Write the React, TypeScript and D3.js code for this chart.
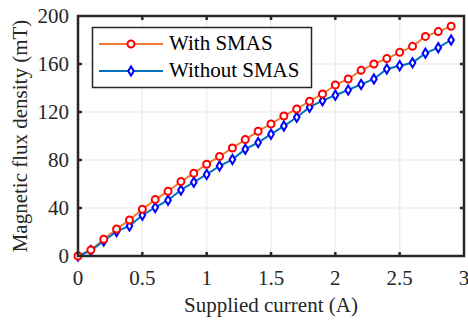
import * as d3 from "d3"

const WIDTH = 468
const HEIGHT = 322
const M = { left: 78, right: 4, top: 16, bottom: 66 }

const current = [
  0, 0.1, 0.2, 0.3, 0.4, 0.5, 0.6, 0.7, 0.8, 0.9, 1.0, 1.1, 1.2, 1.3, 1.4,
  1.5, 1.6, 1.7, 1.8, 1.9, 2.0, 2.1, 2.2, 2.3, 2.4, 2.5, 2.6, 2.7, 2.8, 2.9,
]
const withSmas = [
  0, 5, 14, 22.5, 30, 39, 47, 54, 62, 69, 76.5, 83, 90, 97, 104,
  110, 116.7, 122.5, 129, 135, 142.5, 147.5, 154.7, 160, 164.5, 169.7, 174.7, 183, 187, 191.5,
]
const withoutSmas = [
  0, 4.5, 12.5, 20.5, 25, 34, 40.5, 46.5, 55, 61.5, 68, 75, 80.5, 89, 94.5,
  101.5, 108.3, 115.6, 124, 129.4, 134, 138.3, 143, 147.5, 155.8, 158.6, 161, 169, 173.6, 180,
]
const xTicks = [0, 0.5, 1, 1.5, 2, 2.5, 3]
const yTicks = [0, 40, 80, 120, 160, 200]

const AXIS = "#262626"
const ORANGE = "#F07A35"
const LBLUE = "#0072BD"
const textStyle = { fontFamily: "Liberation Serif", fontSize: "21px" }

const diamond = (cx: number, cy: number) =>
  `M${cx},${cy - 4.6}L${cx + 2.8},${cy}L${cx},${cy + 4.6}L${cx - 2.8},${cy}Z`

export default function App() {
  const x = d3.scaleLinear().domain([0, 3]).range([M.left, WIDTH - M.right])
  const y = d3.scaleLinear().domain([0, 200]).range([HEIGHT - M.bottom, M.top])
  const [x0, x1] = x.range()
  const [y0, y1] = y.range()

  const pts = (vals: number[]) => current.map((c, i) => [x(c), y(vals[i])] as [number, number])
  const line = d3.line()
  const redPts = pts(withSmas)
  const bluePts = pts(withoutSmas)

  const inner = xTicks.slice(1, -1)
  const innerY = yTicks.slice(1, -1)

  return (
    <svg
      width={WIDTH}
      height={HEIGHT}
      viewBox={`0 0 ${WIDTH} ${HEIGHT}`}
      style={{ position: "absolute", left: 0, top: 0, background: "white" }}
    >
      {/* grid */}
      <g stroke="#efefef" strokeWidth={1.5}>
        {inner.map((t) => (
          <line key={`gx${t}`} x1={x(t)} x2={x(t)} y1={y0} y2={y1} />
        ))}
        {innerY.map((t) => (
          <line key={`gy${t}`} x1={x0} x2={x1} y1={y(t)} y2={y(t)} />
        ))}
      </g>

      {/* series */}
      <path d={line(redPts) ?? ""} fill="none" stroke={ORANGE} strokeWidth={2} />
      <path d={line(bluePts) ?? ""} fill="none" stroke={LBLUE} strokeWidth={2} />
      {bluePts.map((d, i) => (
        <path key={`b${i}`} d={diamond(d[0], d[1])} fill="white" stroke="#0000FF" strokeWidth={2} />
      ))}
      {redPts.map((d, i) => (
        <circle key={`r${i}`} cx={d[0]} cy={d[1]} r={3.5} fill="white" stroke="#FF0000" strokeWidth={2} />
      ))}

      {/* axes box + ticks */}
      <g stroke={AXIS} strokeWidth={2.5} fill="none">
        <rect x={x0} y={y1} width={x1 - x0} height={y0 - y1} />
        {inner.map((t) => (
          <g key={`tx${t}`}>
            <line x1={x(t)} x2={x(t)} y1={y0} y2={y0 - 4} />
            <line x1={x(t)} x2={x(t)} y1={y1} y2={y1 + 4} />
          </g>
        ))}
        {innerY.map((t) => (
          <g key={`ty${t}`}>
            <line x1={x0} x2={x0 + 4} y1={y(t)} y2={y(t)} />
            <line x1={x1} x2={x1 - 4} y1={y(t)} y2={y(t)} />
          </g>
        ))}
      </g>

      {/* tick labels */}
      {xTicks.map((t) => (
        <text key={`lx${t}`} x={x(t)} y={y0 + 29} textAnchor="middle" fill={AXIS} style={textStyle}>
          {String(t)}
        </text>
      ))}
      {yTicks.map((t) => (
        <text key={`ly${t}`} x={x0 - 9} y={y(t) + 7} textAnchor="end" fill={AXIS} style={textStyle}>
          {String(t)}
        </text>
      ))}

      {/* axis labels */}
      <text x={(x0 + x1) / 2} y={HEIGHT - 10} textAnchor="middle" fill={AXIS} style={textStyle}>
        Supplied current (A)
      </text>
      <text
        transform={`translate(27,${(y0 + y1) / 2}) rotate(-90)`}
        textAnchor="middle"
        fill={AXIS}
        style={textStyle}
      >
        Magnetic flux density (mT)
      </text>

      {/* legend */}
      <rect x={92.5} y={27.5} width={219} height={60} fill="white" stroke={AXIS} strokeWidth={1.5} />
      <line x1={99} x2={163} y1={44} y2={44} stroke={ORANGE} strokeWidth={2} />
      <circle cx={131} cy={44} r={3.5} fill="white" stroke="#FF0000" strokeWidth={2} />
      <text x={169} y={50} fill="#000" style={textStyle}>With SMAS</text>
      <line x1={99} x2={163} y1={71} y2={71} stroke={LBLUE} strokeWidth={2} />
      <path d={diamond(131, 71)} fill="white" stroke="#0000FF" strokeWidth={2} />
      <text x={169} y={77} fill="#000" style={textStyle}>Without SMAS</text>
    </svg>
  )
}
